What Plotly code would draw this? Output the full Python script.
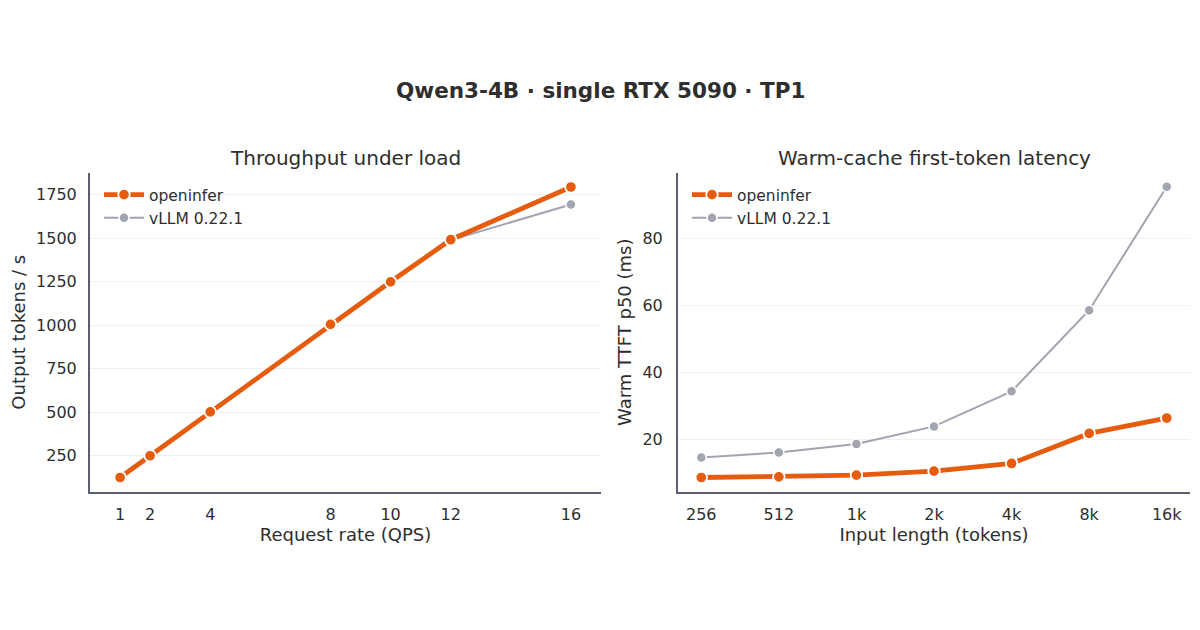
import plotly.graph_objects as go

# ---- data ----
qps = [1, 2, 4, 8, 10, 12, 16]
thr_openinfer = [125, 250, 502, 1005, 1250, 1492, 1795]
thr_vllm = [125, 250, 500, 1000, 1248, 1490, 1695]

input_len = ["256", "512", "1k", "2k", "4k", "8k", "16k"]
ttft_openinfer = [8.5, 8.7, 9.2, 10.4, 12.7, 21.7, 26.3]
ttft_vllm = [14.5, 16.0, 18.5, 23.8, 34.3, 58.6, 95.6]

ORANGE = "#E65C0E"
GRAY = "#A2A4B0"
SPINE = "#5A5E6F"
TEXT = "#2E2E2E"
GRID = "#EFEFEF"
FONT = "DejaVu Sans"

W, H = 1200, 630
def px_x(p):
    return p / W
def px_y(p):
    return 1 - p / H

fig = go.Figure()

def add_pair(x, y_open, y_vllm, xa, ya, legend):
    fig.add_trace(go.Scatter(
        x=x, y=y_vllm, name="vLLM 0.22.1", mode="lines+markers",
        line=dict(color=GRAY, width=2),
        marker=dict(color=GRAY, size=10, line=dict(color="white", width=1.5)),
        xaxis=xa, yaxis=ya, legend=legend, legendrank=2,
    ))
    fig.add_trace(go.Scatter(
        x=x, y=y_open, name="openinfer", mode="lines+markers",
        line=dict(color=ORANGE, width=4.8),
        marker=dict(color=ORANGE, size=11.5, line=dict(color="white", width=1.8)),
        xaxis=xa, yaxis=ya, legend=legend, legendrank=1,
    ))

add_pair(qps, thr_openinfer, thr_vllm, "x", "y", "legend")
add_pair(input_len, ttft_openinfer, ttft_vllm, "x2", "y2", "legend2")

ydom = [px_y(492), px_y(172.5)]
axis_common = dict(
    showline=True, linecolor=SPINE, linewidth=2, ticks="", mirror=False,
    tickfont=dict(family=FONT, size=16, color=TEXT), zeroline=False,
)
title_font = dict(size=18, family=FONT, color=TEXT)

fig.update_layout(
    width=W, height=H,
    margin=dict(l=0, r=0, t=0, b=0),
    paper_bgcolor="white", plot_bgcolor="white",
    font=dict(family=FONT, color=TEXT),
    xaxis=dict(domain=[px_x(90), px_x(601)], range=[0, 17],
               tickvals=qps, showgrid=False, anchor="y",
               ticklabelstandoff=7,
               title=dict(text="Request rate (QPS)", font=title_font, standoff=5),
               **axis_common),
    yaxis=dict(domain=ydom, range=[41.5, 1878.5], anchor="x",
               tickvals=[250, 500, 750, 1000, 1250, 1500, 1750],
               showgrid=True, gridcolor=GRID, gridwidth=1,
               ticklabelstandoff=8,
               title=dict(text="Output tokens / s", font=title_font, standoff=6),
               **axis_common),
    xaxis2=dict(domain=[px_x(678), px_x(1190)], range=[-0.3, 6.3], type="category",
                showgrid=False, anchor="y2",
                ticklabelstandoff=7,
                title=dict(text="Input length (tokens)", font=title_font, standoff=5),
                **axis_common),
    yaxis2=dict(domain=ydom, range=[4.15, 99.85], anchor="x2",
                tickvals=[20, 40, 60, 80],
                showgrid=True, gridcolor=GRID, gridwidth=1,
                ticklabelstandoff=10,
                title=dict(text="Warm TTFT p50 (ms)", font=title_font, standoff=6),
                **axis_common),
    legend=dict(x=px_x(99), y=px_y(178), xanchor="left", yanchor="top",
                bgcolor="rgba(255,255,255,0)", font=dict(family=FONT, size=15.5, color=TEXT),
                traceorder="normal", tracegroupgap=0, itemwidth=40),
    legend2=dict(x=px_x(687), y=px_y(178), xanchor="left", yanchor="top",
                 bgcolor="rgba(255,255,255,0)", font=dict(family=FONT, size=15.5, color=TEXT),
                 traceorder="normal", tracegroupgap=0, itemwidth=40),
    showlegend=True,
)

fig.add_annotation(text="<b>Qwen3-4B · single RTX 5090 · TP1</b>", xref="paper", yref="paper",
                   x=0.5, y=px_y(91), xanchor="center", yanchor="middle", showarrow=False,
                   font=dict(family=FONT, size=21.5, color=TEXT))
fig.add_annotation(text="Throughput under load", xref="paper", yref="paper",
                   x=px_x(345.5), y=px_y(158), xanchor="center", yanchor="middle", showarrow=False,
                   font=dict(family=FONT, size=20, color=TEXT))
fig.add_annotation(text="Warm-cache first-token latency", xref="paper", yref="paper",
                   x=px_x(934), y=px_y(158), xanchor="center", yanchor="middle", showarrow=False,
                   font=dict(family=FONT, size=20, color=TEXT))

fig.write_html("out.html")
